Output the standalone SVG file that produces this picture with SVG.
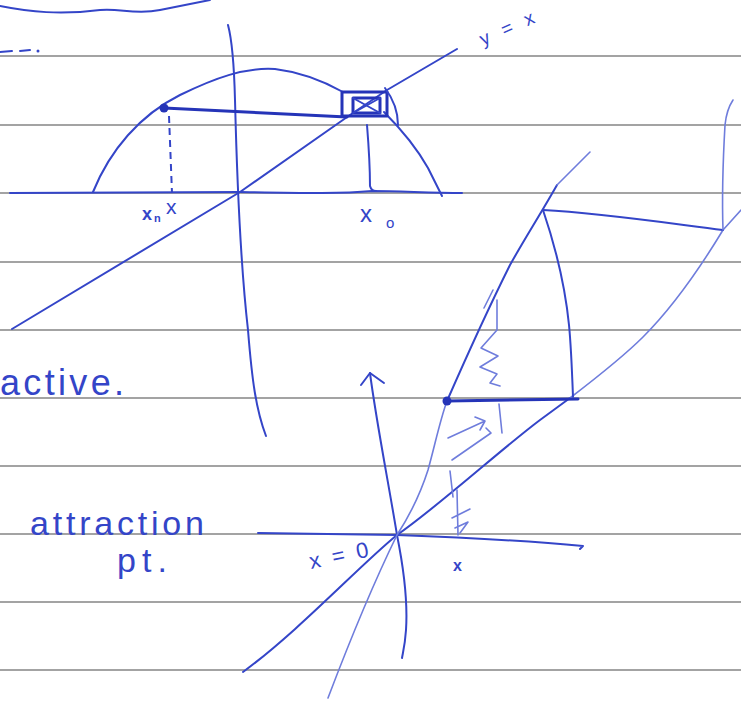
<svg xmlns="http://www.w3.org/2000/svg" width="741" height="702" viewBox="0 0 741 702">
<style>
.rule{stroke:#a3a3a3;stroke-width:2;fill:none}
.ink{stroke:#3445c8;stroke-width:2;fill:none;stroke-linecap:round;stroke-linejoin:round}
.thick{stroke:#2534b8;stroke-width:3;fill:none;stroke-linecap:round;stroke-linejoin:round}
.light{stroke:#6f7ddc;stroke-width:1.6;fill:none;stroke-linecap:round;stroke-linejoin:round}
.dash{stroke:#3445c8;stroke-width:2;fill:none;stroke-dasharray:7 5}
.hand{font-family:"Liberation Sans","DejaVu Sans",sans-serif;fill:#3445c8}
</style>
<rect width="741" height="702" fill="#ffffff"/>
<g id="ruled-lines">
<line class="rule" x1="0" y1="56" x2="741" y2="56"/>
<line class="rule" x1="0" y1="125" x2="741" y2="125"/>
<line class="rule" x1="0" y1="193" x2="741" y2="193"/>
<line class="rule" x1="0" y1="262" x2="741" y2="262"/>
<line class="rule" x1="0" y1="330" x2="741" y2="330"/>
<line class="rule" x1="0" y1="398" x2="741" y2="398"/>
<line class="rule" x1="0" y1="466" x2="741" y2="466"/>
<line class="rule" x1="0" y1="534" x2="741" y2="534"/>
<line class="rule" x1="0" y1="602" x2="741" y2="602"/>
<line class="rule" x1="0" y1="670" x2="741" y2="670"/>
</g>
<g id="top-scribbles">
<path class="ink" d="M0 6 C30 12 60 15 100 10 C120 8 135 15 160 10 C180 6 195 3 210 0"/>
<path class="ink" d="M0 52 L12 51 M20 51 L30 50"/>
<circle cx="38" cy="51" r="1.5" fill="#3445c8"/>
</g>
<g id="top-graph">
<path class="ink" d="M228 25 C232 40 234 60 235 100 C237 180 240 260 248 330 C252 380 256 410 266 436"/>
<path class="ink" d="M10 193 L240 192 C300 193 340 194 372 191 C400 191 430 193 462 193"/>
<path class="ink" d="M93 192 C110 150 140 115 180 95 C215 78 245 67 275 69 C300 72 325 82 343 92"/>
<path class="ink" d="M384 112 C400 128 415 145 428 168 C434 180 438 188 442 196"/>
<path class="ink" d="M12 329 L240 192 L350 115 L387 90 L457 49"/>
<path class="thick" d="M164 108 L347 117"/>
<circle cx="164" cy="108" r="4.5" fill="#2534b8"/>
<path class="dash" d="M169 116 L172 193"/>
<path class="ink" d="M367 125 C369 150 370 170 370 186 C371 190 373 191 376 191"/>
<g id="fixed-point-box">
<rect class="thick" x="342" y="92" width="45" height="24"/>
<rect class="thick" x="353" y="98" width="27" height="15"/>
<path class="ink" d="M353 98 L380 113 M380 98 L353 113"/>
<path class="ink" d="M385 88 C394 100 398 112 398 125"/>
</g>
<text class="hand" x="360" y="222" font-size="24">x</text>
<text class="hand" x="386" y="228" font-size="15">o</text>
<text class="hand" x="142" y="220" font-size="18" font-weight="bold">x</text>
<text class="hand" x="154" y="222" font-size="11" font-weight="bold">n</text>
<text class="hand" x="166" y="214" font-size="21">x</text>
<text class="hand" transform="translate(483,46) rotate(-24)" font-size="19" textLength="58" lengthAdjust="spacing">y = x</text>
</g>
<g id="left-notes">
<text class="hand" x="0" y="395" font-size="36" textLength="124" lengthAdjust="spacing">active.</text>
<text class="hand" x="30" y="535" font-size="34" textLength="174" lengthAdjust="spacing">attraction</text>
<text class="hand" x="117" y="572" font-size="34" textLength="50" lengthAdjust="spacing">pt.</text>
</g>
<g id="bottom-graph">
<path class="ink" d="M258 533 L397 535 C450 537 520 540 583 546 L580 549"/>
<path class="ink" d="M370 373 C376 420 388 480 397 535 C404 570 408 600 406 630 C405 645 403 652 402 658"/>
<path class="ink" d="M361 385 L370 373 L384 383"/>
<path class="ink" d="M243 672 C300 630 360 565 397 535 C440 505 500 450 540 420 L570 398"/>
<path class="light" d="M570 398 C600 375 625 355 643 337 C670 310 700 268 723 230 L741 210"/>
<path class="light" d="M328 698 C350 640 375 580 397 535 C410 515 420 495 428 470 C435 445 440 420 447 401"/>
<path class="ink" d="M447 401 C465 360 490 305 510 265 C525 238 540 215 557 185"/>
<path class="light" d="M557 185 L590 152"/>
<path class="thick" d="M447 401 L578 399"/>
<circle cx="447" cy="401" r="4.5" fill="#2534b8"/>
<path class="ink" d="M573 397 C572 370 571 345 569 325 C566 295 560 260 543 210"/>
<path class="ink" d="M543 210 C600 213 660 222 723 230"/>
<path class="light" d="M723 230 C722 200 723 160 725 125 C726 115 729 106 733 100"/>
<g id="cobweb-scribbles">
<path class="light" d="M484 308 L493 290"/>
<path class="light" d="M497 300 L497 330 L481 348 L498 356 L480 367 L497 374 L490 383 L500 386"/>
<path class="light" d="M499 404 L502 433"/>
<path class="light" d="M448 438 L485 421 M475 417 L485 421 L480 430"/>
<path class="light" d="M452 460 L491 433 M486 428 L491 433"/>
<path class="light" d="M450 471 L453 497"/>
<path class="light" d="M457 490 L458 535 M452 518 L470 509 M455 528 L468 522 L460 533"/>
</g>
<text class="hand" transform="translate(311,569) rotate(-12)" font-size="22" textLength="60" lengthAdjust="spacing">x = 0</text>
<text class="hand" x="453" y="571" font-size="16" font-weight="bold">x</text>
</g>
</svg>
